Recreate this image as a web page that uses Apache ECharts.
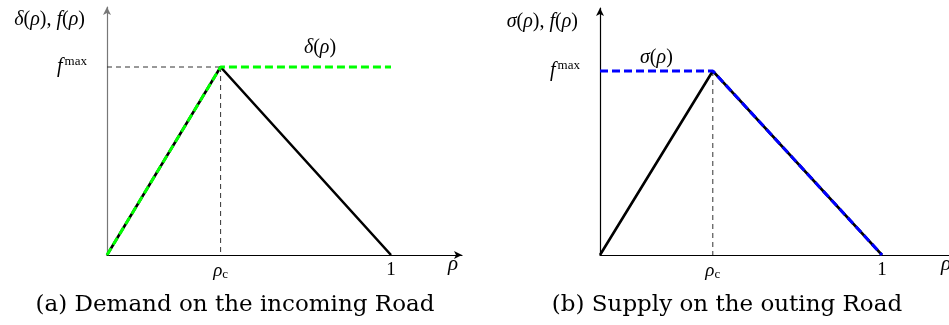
<!DOCTYPE html>
<html>
<head>
<meta charset="utf-8">
<script src="https://cdn.jsdelivr.net/npm/echarts@6/dist/echarts.min.js"></script>
<style>
  html, body { margin: 0; padding: 0; background: #fff; }
  #chart { width: 949px; height: 325px; }
</style>
</head>
<body>
<div id="chart"></div>
<script>
// Piecewise-linear flux f(ρ) with its demand δ(ρ) and supply σ(ρ)
const rhoC = 0.4;          // critical density ρc (as a fraction of jam density 1)
const fMax = 1;            // maximal flux f^max
const densityPts = [0, rhoC, 1];
const fluxVals   = [0, fMax, 0];   // triangular fundamental diagram
const demandVals = [0, fMax, fMax]; // δ(ρ): rising, then flat at f^max
const supplyVals = [fMax, fMax, 0]; // σ(ρ): flat at f^max, then falling
const xTickValues = [rhoC, 1];
const xTickLabels = ['{it|ρ}{sub|c}', '{n|1}'];
const yTickValues = [fMax];
const captions = ['(a) Demand on the incoming Road', '(b) Supply on the outing Road'];
const yNames = ['{i|δ}{n|(}{i|ρ}{n|), }{i|f}{n|(}{i|ρ}{n|)}', '{i|σ}{n|(}{i|ρ}{n|), }{i|f}{n|(}{i|ρ}{n|)}'];
const curveNames = ['{i|δ}{n|(}{i|ρ}{n|)}', '{i|σ}{n|(}{i|ρ}{n|)}'];

const pairs = (xs, ys) => xs.map((x, i) => [x, ys[i]]);

const mathFont = '"Liberation Serif", "DejaVu Serif", serif';
const textFont = '"DejaVu Serif", "Liberation Serif", serif';

function xAxisFor(gridIndex, max, arrow, nameGap) {
  return {
    type: 'value', gridIndex, min: 0, max,
    axisLine: { show: true, lineStyle: { color: '#000', width: 1.2 },
      symbol: ['none', arrow ? 'arrow' : 'none'], symbolSize: [6, 8] },
    axisTick: { show: false },
    splitLine: { show: false },
    axisLabel: {
      customValues: xTickValues,
      margin: 6,
      formatter: (v) => xTickLabels[xTickValues.indexOf(v)] || '',
      rich: {
        n: { fontFamily: mathFont, fontSize: 19, color: '#000' },
        it: { fontFamily: mathFont, fontStyle: 'italic', fontSize: 19, color: '#000' },
        sub: { fontFamily: mathFont, fontSize: 13, color: '#000', padding: [7, 0, 0, 0] }
      }
    },
    name: '{it|ρ}',
    nameLocation: 'end',
    nameGap,
    nameTextStyle: {
      verticalAlign: 'middle', padding: [18, 0, 0, 0],
      rich: { it: { fontFamily: mathFont, fontStyle: 'italic', fontSize: 21, color: '#000' } }
    }
  };
}

function yAxisFor(gridIndex, max, color) {
  return {
    type: 'value', gridIndex, min: 0, max,
    axisLine: { show: true, lineStyle: { color, width: 1.2 },
      symbol: ['none', 'arrow'], symbolSize: [6, 8] },
    axisTick: { show: false },
    splitLine: { show: false },
    axisLabel: {
      customValues: yTickValues,
      margin: 20,
      formatter: () => '{f|f}{sup|max}',
      rich: {
        f: { fontFamily: mathFont, fontStyle: 'italic', fontSize: 20, color: '#000' },
        sup: { fontFamily: mathFont, fontSize: 13, color: '#000', padding: [0, 0, 10, 2] }
      }
    }
  };
}

const guide = { color: '#333', width: 1, type: [5, 4] };

const option = {
  animation: false,
  backgroundColor: '#fff',
  grid: [
    { left: 107, top: 7, width: 355, height: 248, outerBoundsMode: 'none' },
    { left: 600, top: 8, width: 349, height: 247, outerBoundsMode: 'none' }
  ],
  xAxis: [xAxisFor(0, 355 / 284, true, -14), xAxisFor(1, 349 / 282, false, -8)],
  yAxis: [yAxisFor(0, 248 / 188, '#777'), yAxisFor(1, 247 / 184, '#000')],
  series: [
    // left panel: guides, flux, demand
    { type: 'line', xAxisIndex: 0, yAxisIndex: 0, symbol: 'none',
      data: [[0, fMax], [rhoC, fMax]], lineStyle: guide },
    { type: 'line', xAxisIndex: 0, yAxisIndex: 0, symbol: 'none',
      data: [[rhoC, fMax], [rhoC, 0]], lineStyle: guide },
    { type: 'line', xAxisIndex: 0, yAxisIndex: 0, symbol: 'none',
      data: pairs(densityPts, fluxVals), lineStyle: { color: '#000', width: 2.6 } },
    { type: 'line', xAxisIndex: 0, yAxisIndex: 0, symbol: 'none',
      data: pairs(densityPts, demandVals), lineStyle: { color: '#00ff00', width: 3, type: [8, 4] } },
    // right panel: guide, flux, supply
    { type: 'line', xAxisIndex: 1, yAxisIndex: 1, symbol: 'none',
      data: [[rhoC, fMax], [rhoC, 0]], lineStyle: guide },
    { type: 'line', xAxisIndex: 1, yAxisIndex: 1, symbol: 'none',
      data: pairs(densityPts, fluxVals), lineStyle: { color: '#000', width: 2.6 } },
    { type: 'line', xAxisIndex: 1, yAxisIndex: 1, symbol: 'none',
      data: pairs(densityPts, supplyVals), lineStyle: { color: '#0000ff', width: 3, type: [8, 4] } }
  ]
};

const chart = echarts.init(document.getElementById('chart'), null, { renderer: 'canvas' });
chart.setOption(option);

// Text placed relative to the plotted geometry
const px = (g, pt) => chart.convertToPixel({ gridIndex: g }, pt);
const leftOrigin = px(0, [0, 0]);
const rightOrigin = px(1, [0, 0]);
const dLabel = px(0, [0.75, fMax]);
const sLabel = px(1, [0.2, fMax]);

const mathRich = {
  i: { fontFamily: mathFont, fontStyle: 'italic', fontSize: 20, fill: '#000' },
  n: { fontFamily: mathFont, fontSize: 20, fill: '#000' }
};
const mathText = (x, y, text, align) => ({
  type: 'text', x, y,
  style: { text, rich: mathRich, align, verticalAlign: 'middle' }
});

chart.setOption({
  graphic: [
    mathText(leftOrigin[0] - 22, 20, yNames[0], 'right'),
    mathText(rightOrigin[0] - 22, 22, yNames[1], 'right'),
    mathText(dLabel[0], dLabel[1] - 19, curveNames[0], 'center'),
    mathText(sLabel[0], sLabel[1] - 13, curveNames[1], 'center'),
    { type: 'text', x: 235, y: 305,
      style: { text: captions[0], fill: '#000', font: '23px ' + textFont, textAlign: 'center', textVerticalAlign: 'middle' } },
    { type: 'text', x: 727, y: 305,
      style: { text: captions[1], fill: '#000', font: '23px ' + textFont, textAlign: 'center', textVerticalAlign: 'middle' } }
  ]
});
</script>
</body>
</html>
